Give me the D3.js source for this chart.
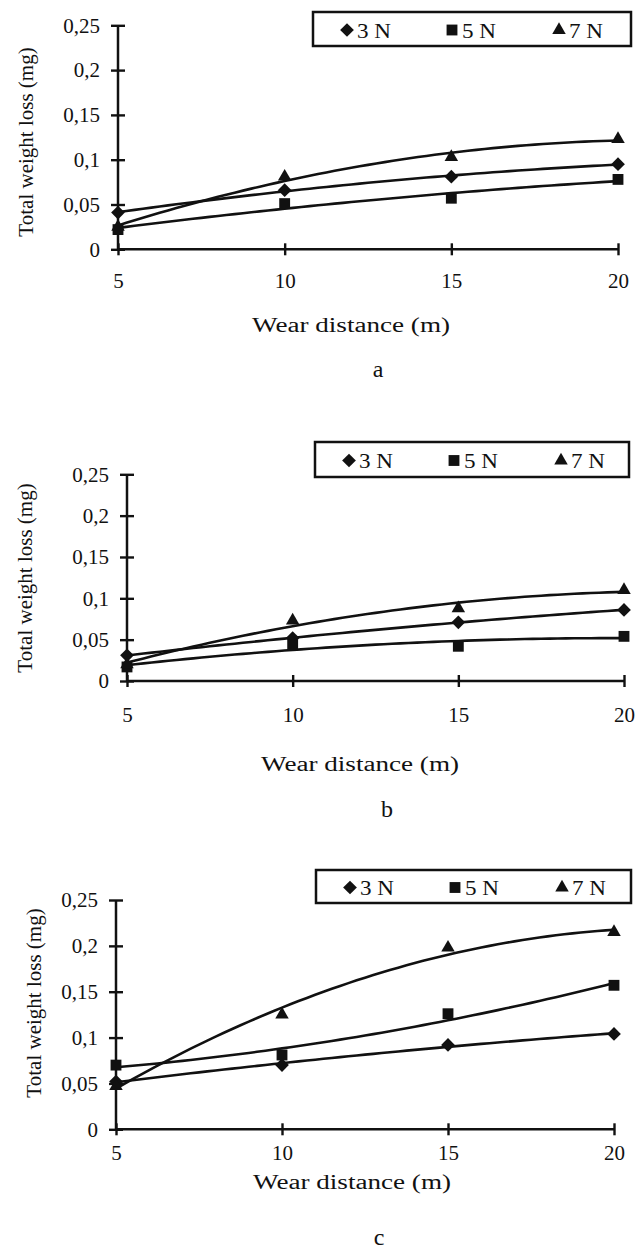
<!DOCTYPE html>
<html>
<head>
<meta charset="utf-8">
<script src="https://cdn.jsdelivr.net/npm/d3@7"></script>
<style>
  body { margin: 0; background: #fff; }
  svg { display: block; font-family: "Liberation Serif", "Times New Roman", serif; }
</style>
</head>
<body>
<div id="chart"></div>
<script>
// wear distance (m) and applied loads
const distances = [5, 10, 15, 20];
const loads = ["3 N", "5 N", "7 N"];
const yTicks = [0, 0.05, 0.1, 0.15, 0.2, 0.25];

// total weight loss (mg), panel a
const aLoss3N = [0.041, 0.066, 0.081, 0.095];
const aLoss5N = [0.022, 0.051, 0.057, 0.078];
const aLoss7N = [0.025, 0.081, 0.103, 0.123];
// panel b
const bLoss3N = [0.031, 0.052, 0.071, 0.086];
const bLoss5N = [0.017, 0.044, 0.042, 0.054];
const bLoss7N = [0.020, 0.073, 0.088, 0.110];
// panel c
const cLoss3N = [0.052, 0.070, 0.092, 0.104];
const cLoss5N = [0.070, 0.081, 0.126, 0.157];
const cLoss7N = [0.047, 0.125, 0.198, 0.215];

const panelNames = ["a", "b", "c"];

const width = 641, height = 1258;

const svg = d3.select("#chart")
  .append("svg")
  .attr("width", width)
  .attr("height", height);

const commaFmt = d3.formatLocale({ decimal: ",", thousands: ".", grouping: [3], currency: ["", ""] }).format("~g");

// page layout for each panel (plot box, legend box, text rows)
const layout = [
  { x0: 118, x1: 618, yTop: 25.3, yBot: 249.3, legend: [313, 12, 318, 34], xPad: 18,
    titleX: 351, titleY: 325, letterY: 377, yTitleX: 26, yTitleY: 142 },
  { x0: 127, x1: 624, yTop: 474.3, yBot: 681, legend: [315, 442, 314, 35], xPad: 20,
    titleX: 360, titleY: 764, letterY: 817, yTitleX: 25, yTitleY: 578 },
  { x0: 116, x1: 614, yTop: 900, yBot: 1129.3, legend: [316, 870, 315, 33], xPad: 10,
    titleX: 352, titleY: 1182, letterY: 1245, yTitleX: 34, yTitleY: 1003 }
];

const panels = [
  [aLoss3N, aLoss5N, aLoss7N],
  [bLoss3N, bLoss5N, bLoss7N],
  [cLoss3N, cLoss5N, cLoss7N]
];

const symbols = [d3.symbolDiamond2, d3.symbolSquare2, d3.symbolTriangle2];
const symbolSize = [120, 150, 130];

// 2nd order polynomial trendline (least squares), like the spreadsheet trendlines
function polyFit(xs, ys) {
  let s = Array(5).fill(0), t = Array(3).fill(0);
  xs.forEach((x, i) => {
    for (let k = 0; k < 5; k++) s[k] += Math.pow(x, k);
    for (let k = 0; k < 3; k++) t[k] += Math.pow(x, k) * ys[i];
  });
  const m = [
    [s[0], s[1], s[2], t[0]],
    [s[1], s[2], s[3], t[1]],
    [s[2], s[3], s[4], t[2]]
  ];
  for (let i = 0; i < 3; i++) {
    for (let j = i + 1; j < 3; j++) {
      const f = m[j][i] / m[i][i];
      for (let k = i; k < 4; k++) m[j][k] -= f * m[i][k];
    }
  }
  const c = [0, 0, 0];
  for (let i = 2; i >= 0; i--) {
    let v = m[i][3];
    for (let k = i + 1; k < 3; k++) v -= m[i][k] * c[k];
    c[i] = v / m[i][i];
  }
  return x => c[0] + c[1] * x + c[2] * x * x;
}

panels.forEach((series, p) => {
  const L = layout[p];
  const g = svg.append("g");

  const x = d3.scaleLinear().domain([5, 20]).range([L.x0, L.x1]);
  const y = d3.scaleLinear().domain([0, 0.25]).range([L.yBot, L.yTop]);

  // y axis, ticks crossing the line
  const yAxis = g.append("g")
    .attr("transform", `translate(${L.x0},0)`)
    .call(d3.axisLeft(y).tickValues(yTicks).tickSize(7).tickPadding(11).tickFormat(d => d === 0 ? "0" : commaFmt(d)));
  yAxis.selectAll(".tick line").attr("x1", 7);

  const xAxis = g.append("g")
    .attr("transform", `translate(0,${L.yBot})`)
    .call(d3.axisBottom(x).tickValues(distances).tickSize(6).tickPadding(L.xPad));
  xAxis.selectAll(".tick line").attr("y1", -6);

  g.selectAll(".domain").attr("stroke", "#111").attr("stroke-width", 2.5).attr("d", null);
  yAxis.select(".domain").attr("d", `M0,${L.yBot}V${L.yTop}`);
  xAxis.select(".domain").attr("d", `M${L.x0},0H${L.x1}`);
  g.selectAll(".tick line").attr("stroke", "#111").attr("stroke-width", 2.4);
  g.selectAll(".tick text").attr("fill", "#111").attr("font-size", 21)
    .attr("font-family", "Liberation Serif");

  // axis titles
  g.append("text")
    .attr("transform", `translate(${L.yTitleX},${L.yTitleY}) rotate(-90)`)
    .attr("text-anchor", "middle")
    .attr("dy", "0.35em")
    .attr("font-size", 21)
    .attr("fill", "#111")
    .text("Total weight loss (mg)");

  g.append("text")
    .attr("x", L.titleX)
    .attr("y", L.titleY)
    .attr("text-anchor", "middle")
    .attr("dy", "0.35em")
    .attr("font-size", 20)
    .attr("textLength", 198)
    .attr("lengthAdjust", "spacingAndGlyphs")
    .attr("fill", "#111")
    .text("Wear distance (m)");

  g.append("text")
    .attr("x", L.titleX + 27)
    .attr("y", L.letterY)
    .attr("text-anchor", "middle")
    .attr("font-size", 24)
    .attr("fill", "#111")
    .text(panelNames[p]);

  // trendlines
  const line = d3.line().x(d => x(d[0])).y(d => y(d[1]));
  series.forEach((vals, s) => {
    const f = polyFit(distances, vals);
    const pts = d3.range(5, 20.01, 0.25).map(v => [v, f(v)]);
    g.append("path")
      .attr("d", line(pts))
      .attr("fill", "none")
      .attr("stroke", "#111")
      .attr("stroke-width", 2.6);
  });

  // markers
  series.forEach((vals, s) => {
    g.append("g").selectAll("path")
      .data(vals)
      .join("path")
      .attr("d", d3.symbol().type(symbols[s]).size(symbolSize[s]))
      .attr("transform", (d, i) => `translate(${x(distances[i])},${y(d)})`)
      .attr("fill", "#111");
  });

  // legend
  const [lx, ly, lw, lh] = L.legend;
  const legend = g.append("g").attr("transform", `translate(${lx},${ly})`);
  legend.append("rect")
    .attr("width", lw).attr("height", lh)
    .attr("fill", "#fff").attr("stroke", "#111").attr("stroke-width", 2.5);
  const itemX = [34, 139, 246];
  legend.selectAll("g.item")
    .data(loads)
    .join("g")
    .attr("class", "item")
    .attr("transform", (d, i) => `translate(${itemX[i]},${lh / 2 + 1})`)
    .each(function(d, i) {
      const it = d3.select(this);
      it.append("path")
        .attr("d", d3.symbol().type(symbols[i]).size(symbolSize[i]))
        .attr("fill", "#111");
      it.append("text")
        .attr("x", 10)
        .attr("dy", "0.35em")
        .attr("font-size", 22)
        .attr("textLength", 34)
        .attr("lengthAdjust", "spacingAndGlyphs")
        .attr("fill", "#111")
        .text(d);
    });
});
</script>
</body>
</html>
